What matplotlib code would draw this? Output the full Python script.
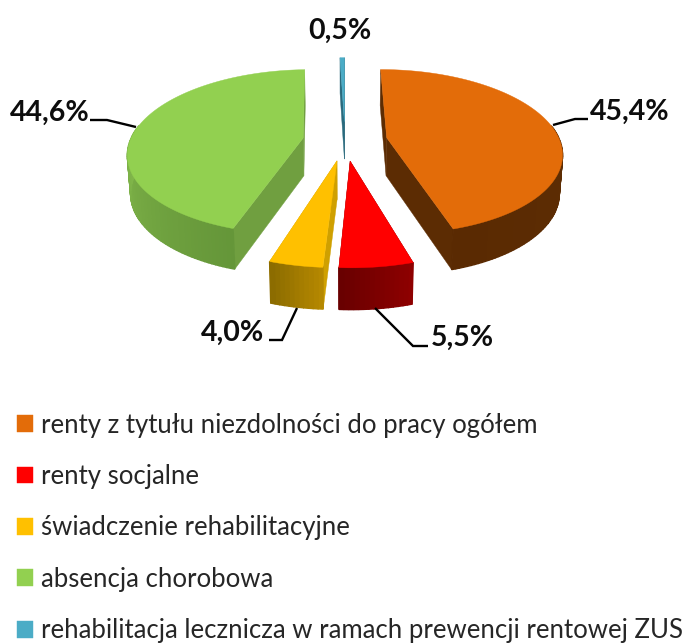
import numpy as np
import matplotlib
matplotlib.use("Agg")
import matplotlib.pyplot as plt
from matplotlib.patches import Polygon
from matplotlib.colors import to_rgb

categories = ["renty z tytułu niezdolności do pracy ogółem", "renty socjalne",
              "świadczenie rehabilitacyjne", "absencja chorobowa",
              "rehabilitacja lecznicza w ramach prewencji rentowej ZUS"]
values = [45.4, 5.5, 4.0, 44.6, 0.5]
labels = ["45,4%", "5,5%", "4,0%", "44,6%", "0,5%"]
top_colors = ["#E36C09", "#FF0000", "#FFC000", "#92D050", "#4BACC6"]
side_from = ["#5E2E04", "#8E0000", "#B58800", "#84BA4C", "#2F7C92"]
side_to = ["#5A2A02", "#690000", "#8C6C00", "#659639", "#2F7C92"]
wall_colors = ["#5C2C03", "#7A0000", "#CFA000", "#709F40", "#2A6A7D"]

label_pos = [(630, 112), (462, 338), (233, 333), (50, 113), (340, 31)]
leaders = [[(553, 125), (575, 119), (588, 119)],
           [(375, 308), (413, 346), (428, 346)],
           [(297, 308), (282, 340), (269, 340)],
           [(136, 127), (107, 120), (90, 120)]]

CX, CY, RX, RY, K, EXPLODE = 345, 140.6, 173, 80.7, 0.17, 0.245
DEPTH, LOW_X, LOW_Y = 38, 0.985, 1.03
FONT = "Lato"


def project(u, v, low=False):
    w = 1 + K * v
    if low:
        return CX + LOW_X * RX * u / w, CY + DEPTH - LOW_Y * RY * v / w
    return CX + RX * u / w, CY - RY * v / w


def blend(a, b, t):
    a, b = np.array(to_rgb(a)), np.array(to_rgb(b))
    return tuple(a + (b - a) * t)


fig = plt.figure(figsize=(6.83, 6.44), dpi=100)
ax = fig.add_axes([0, 0, 1, 1])
ax.set_xlim(0, 683)
ax.set_ylim(644, 0)
ax.axis("off")

handles = []
start = 0.0
total = sum(values)
for i, val in enumerate(values):
    span = val / total * 2 * np.pi
    mid = start + span / 2
    ou, ov = EXPLODE * np.sin(mid), EXPLODE * np.cos(mid)
    th = np.linspace(start, start + span, max(int(val * 3), 4))
    us, vs = ou + np.sin(th), ov + np.cos(th)

    apex_t, apex_b = project(ou, ov), project(ou, ov, True)
    for j in (0, -1):
        wall = [apex_t, project(us[j], vs[j]), project(us[j], vs[j], True), apex_b]
        ax.add_patch(Polygon(wall, closed=True, fc=wall_colors[i], ec=wall_colors[i], lw=0.3))

    n = len(th) - 1
    visible = [k for k in range(n) if (vs[k] + vs[k + 1]) / 2 < ov + 0.15]
    for k in visible:
        t = visible.index(k) / max(len(visible) - 1, 1)
        if i == 3:
            t = 1 - t
        col = blend(side_from[i], side_to[i], t)
        quad = [project(us[k], vs[k]), project(us[k + 1], vs[k + 1]),
                project(us[k + 1], vs[k + 1], True), project(us[k], vs[k], True)]
        ax.add_patch(Polygon(quad, closed=True, fc=col, ec=col, lw=1.0))

    top = [apex_t] + [project(a, b) for a, b in zip(us, vs)]
    h = Polygon(top, closed=True, fc=top_colors[i], ec=top_colors[i], lw=0.3, label=categories[i])
    ax.add_patch(h)
    handles.append(h)
    start += span

for pts in leaders:
    xs, ys = zip(*pts)
    ax.plot(xs, ys, color="black", lw=1.7, solid_capstyle="butt", solid_joinstyle="miter")

for text, (x, y) in zip(labels, label_pos):
    ax.text(x, y, text, ha="center", va="center", fontsize=20.5, fontweight="bold",
            family=FONT, color="#0D0D0D")

leg = ax.legend(handles=handles, loc="upper left", bbox_to_anchor=(17 / 683, 1 - 412.5 / 644),
                borderaxespad=0, borderpad=0, frameon=False, handlelength=0.63, handleheight=0.63,
                handletextpad=0.31, labelspacing=1.03,
                prop={"family": FONT, "size": 18.5})
for t in leg.get_texts():
    t.set_color("#262626")

fig.savefig("out.png", dpi=100)
